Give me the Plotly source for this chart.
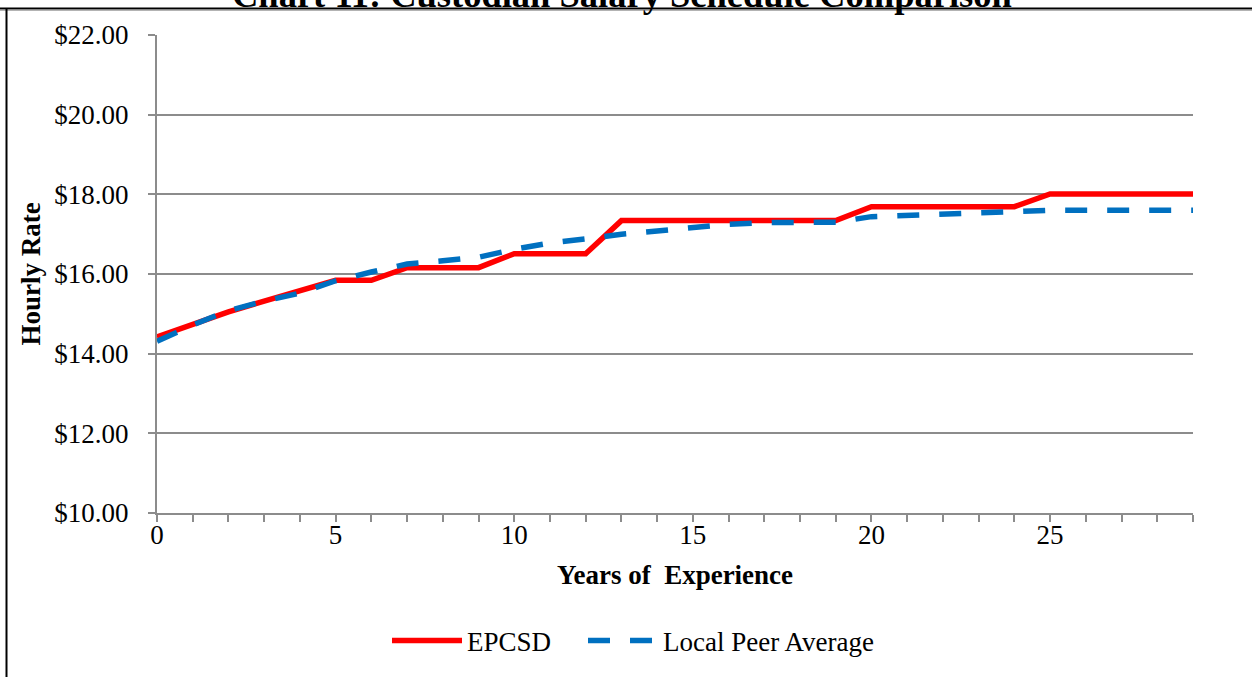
import plotly.graph_objects as go

years = list(range(0, 30))
epcsd = [14.42, 14.74, 15.05, 15.32, 15.58, 15.84, 15.84, 16.16, 16.16, 16.16,
         16.51, 16.51, 16.51, 17.34, 17.34, 17.34, 17.34, 17.34, 17.34, 17.34,
         17.69, 17.69, 17.69, 17.69, 17.69, 18.01, 18.01, 18.01, 18.01, 18.01]
peer = [14.31, 14.72, 15.08, 15.32, 15.52, 15.83, 16.05, 16.25, 16.33, 16.42,
        16.62, 16.78, 16.88, 17.00, 17.08, 17.18, 17.25, 17.29, 17.29, 17.30,
        17.44, 17.47, 17.50, 17.55, 17.58, 17.60, 17.60, 17.60, 17.60, 17.60]
series_names = ["EPCSD", "Local Peer Average"]
title_text = "Chart 11: Custodian Salary Schedule Comparison"
x_title = "Years of\u00a0 Experience"
y_title = "Hourly Rate"

W, H = 1252, 677
L, R, T, B = 157, 1193, 35, 513
FONT = "Liberation Serif, Times New Roman, serif"
GRID = "#8c8c8c"
FS = 27


def px_x(p):
    return (p - L) / (R - L)


def px_y(q):
    return (B - q) / (B - T)


fig = go.Figure()
fig.add_trace(go.Scatter(x=years, y=epcsd, mode="lines", name=series_names[0],
                         legend="legend",
                         line=dict(color="#FF0000", width=5.5)))
fig.add_trace(go.Scatter(x=years, y=peer, mode="lines", name=series_names[1],
                         legend="legend2",
                         line=dict(color="#0070C0", width=5.5, dash="22px,20px")))

leg_common = dict(orientation="h", yanchor="middle", xanchor="left",
                  font=dict(size=FS, family=FONT), itemwidth=70,
                  bgcolor="rgba(0,0,0,0)")

fig.update_layout(
    width=W, height=H,
    margin=dict(l=L, r=W - R, t=T, b=H - B, autoexpand=False),
    paper_bgcolor="white", plot_bgcolor="white",
    font=dict(family=FONT, size=FS, color="black"),
    showlegend=True,
    legend=dict(x=px_x(387), y=px_y(641), **leg_common),
    legend2=dict(x=px_x(583), y=px_y(641), **leg_common),
    xaxis=dict(range=[0, 29], tickmode="linear", tick0=0, dtick=5,
               showgrid=False, zeroline=False, showline=True, linecolor=GRID,
               linewidth=2, ticks="outside", ticklen=7, tickwidth=2,
               tickcolor=GRID, tickfont=dict(size=FS, family=FONT),
               ticklabelstandoff=-10,
               minor=dict(dtick=1, tick0=0, ticks="outside", ticklen=7,
                          tickwidth=2, tickcolor=GRID, showgrid=False),
               title=dict(text=x_title, font=dict(size=FS, weight="bold", family=FONT),
                          standoff=16)),
    yaxis=dict(range=[10, 22], tickmode="linear", tick0=10, dtick=2,
               tickprefix="$", tickformat=".2f", showgrid=True,
               gridcolor=GRID, gridwidth=2, zeroline=False, showline=True,
               linecolor=GRID, linewidth=2, ticks="outside", ticklen=7,
               tickwidth=2, tickcolor=GRID, tickfont=dict(size=FS, family=FONT),
               ticklabelstandoff=14,
               title=dict(text=y_title, font=dict(size=FS, weight="bold", family=FONT),
                          standoff=6)),
)

fig.add_annotation(text="<b>" + title_text + "</b>", xref="paper", yref="paper",
                   x=px_x(622), y=px_y(17), xanchor="center", yanchor="bottom",
                   showarrow=False, font=dict(size=36.5, family=FONT))

# document frame lines
fig.add_shape(type="line", xref="paper", yref="paper", x0=px_x(0), x1=px_x(W + 10),
              y0=px_y(8.5), y1=px_y(8.5), line=dict(color="black", width=2))
fig.add_shape(type="line", xref="paper", yref="paper", x0=px_x(0), x1=px_x(W + 10),
              y0=px_y(10.3), y1=px_y(10.3), line=dict(color="#a0a0a0", width=1))
fig.add_shape(type="line", xref="paper", yref="paper", x0=px_x(6.5), x1=px_x(6.5),
              y0=px_y(8), y1=px_y(H + 5), line=dict(color="black", width=2))

fig.write_html("out.html")
